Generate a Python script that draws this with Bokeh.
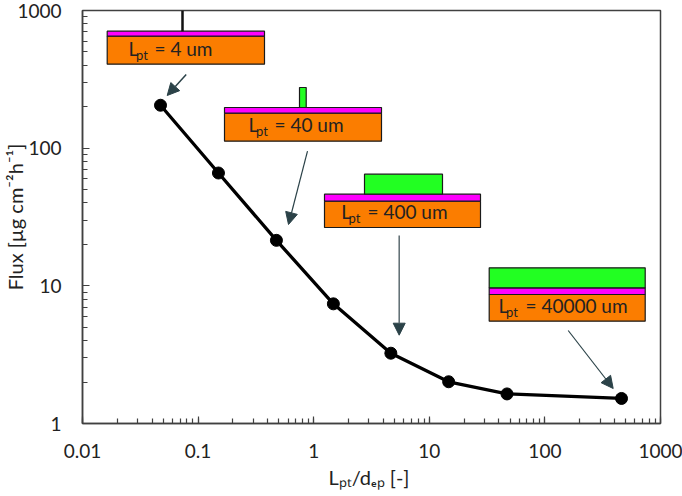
from bokeh.plotting import figure
from bokeh.embed import file_html
from bokeh.resources import INLINE
from bokeh.core.properties import value
from bokeh.models import Arrow, NormalHead, LogTicker

ratio = [0.0473, 0.15, 0.476, 1.48, 4.65, 14.7, 47, 460]
flux = [205, 66, 21.4, 7.4, 3.24, 2.01, 1.64, 1.52]
x_ticks = {0.01: "0.01", 0.1: "0.1", 1: "1", 10: "10", 100: "100", 1000: "1000"}
y_ticks = {1: "1", 10: "10", 100: "100", 1000: "1000"}
x_title = "Lₚₜ/dₑₚ  [-]"
y_title = "Flux [µg cm⁻²h⁻¹]"

FONT = "Lato"
INK = "#222222"
AXIS = "#404040"
ORANGE = "#FB7D00"
MAGENTA = "#FF00FF"
GREEN = "#22FF22"
ARROW = "#2B4248"

# frame position on the page, in pixels
FL, FR, FT, FB = 82, 660, 10, 423
W, H = 682, 496

p = figure(width=W, height=H, x_axis_type="log", y_axis_type="log",
           x_range=(0.01, 1000), y_range=(1, 1000),
           output_backend="svg", toolbar_location=None,
           min_border_left=FL, min_border_right=W - FR,
           min_border_top=FT, min_border_bottom=H - FB)


def X(px):
    return 10 ** (-2 + 5 * (px - FL) / (FR - FL))


def Y(py):
    return 10 ** (3 * (FB - py) / (FB - FT))


p.grid.visible = False
p.outline_line_color = AXIS
p.outline_line_width = 1.5
p.background_fill_color = "white"

for ax, labels in ((p.xaxis[0], x_ticks), (p.yaxis[0], y_ticks)):
    ax.ticker = LogTicker(num_minor_ticks=10, mantissas=[1])
    ax.major_label_overrides = labels
    ax.major_label_text_font = FONT
    ax.major_label_text_font_size = "19px"
    ax.major_label_text_color = INK
    ax.axis_line_color = AXIS
    ax.axis_line_width = 1.5
    ax.major_tick_line_color = AXIS
    ax.minor_tick_line_color = AXIS
    ax.major_tick_line_width = 1.2
    ax.minor_tick_line_width = 1.2
    ax.major_tick_in = 7
    ax.major_tick_out = 0
    ax.minor_tick_in = 5
    ax.minor_tick_out = 0
    ax.axis_label_text_font = FONT
    ax.axis_label_text_font_style = "normal"
    ax.axis_label_text_font_size = "20px"
    ax.axis_label_text_color = INK
p.xaxis[0].major_label_standoff = 20
p.yaxis[0].major_label_standoff = 21
p.xaxis[0].axis_label = x_title
p.yaxis[0].axis_label = y_title
p.xaxis[0].axis_label_standoff = 4
p.yaxis[0].axis_label_standoff = -13

# schematic boxes: left, right, magenta top, orange top, bottom
boxes = [
    (106.7, 264, 30.7, 35.7, 63.7),
    (224, 381, 107, 112.7, 140.7),
    (324, 480, 193.7, 200.7, 227),
    (488.7, 644.7, 287.3, 294, 320.7),
]
# platinum strips: left, right, top, bottom
strips = [
    (299, 305.7, 87, 107),
    (364, 442, 173.7, 193.7),
    (488.7, 644.7, 267.3, 287.3),
]
for l, r, t, m, b in boxes:
    p.quad(left=[X(l)], right=[X(r)], top=[Y(m)], bottom=[Y(b)],
           fill_color=ORANGE, line_color="#1a1a1a", line_width=1.2)
    p.quad(left=[X(l)], right=[X(r)], top=[Y(t)], bottom=[Y(m)],
           fill_color=MAGENTA, line_color="#1a1a1a", line_width=1.2)
for l, r, t, b in strips:
    p.quad(left=[X(l)], right=[X(r)], top=[Y(t)], bottom=[Y(b)],
           fill_color=GREEN, line_color="#1a1a1a", line_width=1.2)
p.segment(x0=[X(182)], x1=[X(182)], y0=[Y(FT)], y1=[Y(30.7)],
          line_color="#111111", line_width=2.5)

# arrows: x0, y0, x1, y1, colour
arrows = [
    (185.7, 74, 166.7, 95, ARROW, 1.5),
    (307, 150.7, 288, 224, ARROW, 1.2),
    (398.7, 235, 398.7, 334.7, "#5C6B70", 1.5),
    (567.7, 330, 612.7, 388, ARROW, 1.2),
]
for x0, y0, x1, y1, c, w in arrows:
    p.add_layout(Arrow(end=NormalHead(size=12, fill_color=ARROW, line_color=ARROW),
                       x_start=X(x0), y_start=Y(y0), x_end=X(x1), y_end=Y(y1),
                       line_color=c, line_width=w))

# the curve
p.line(ratio, flux, line_color="black", line_width=3.3)
p.scatter(ratio, flux, size=12, marker="circle", fill_color="black", line_color="black")


def run(text, px, py, size):
    # SVG text sits about 0.42 em below the requested baseline
    p.text(x=[X(px)], y=[Y(py - 0.42 * size)], text=[text], text_font=value(FONT),
           text_font_size=f"{size}px", text_color=INK,
           text_baseline="alphabetic", text_align="left")


# box labels: L x, subscript x, "=" x, baseline, text
box_labels = [
    (128, 135.5, 154, 55.5, "= 4 um"),
    (248, 255.5, 274, 132, "= 40 um"),
    (340.7, 348, 367, 218.5, "= 400 um"),
    (498, 505.5, 525, 312.5, "= 40000 um"),
]
for lx, sx, ex, by, tail in box_labels:
    run("L", lx, by, 19)
    run("pt", sx, by + 4, 13)
    run(tail, ex, by, 19)

open("out.html", "w").write(file_html(p, INLINE))
